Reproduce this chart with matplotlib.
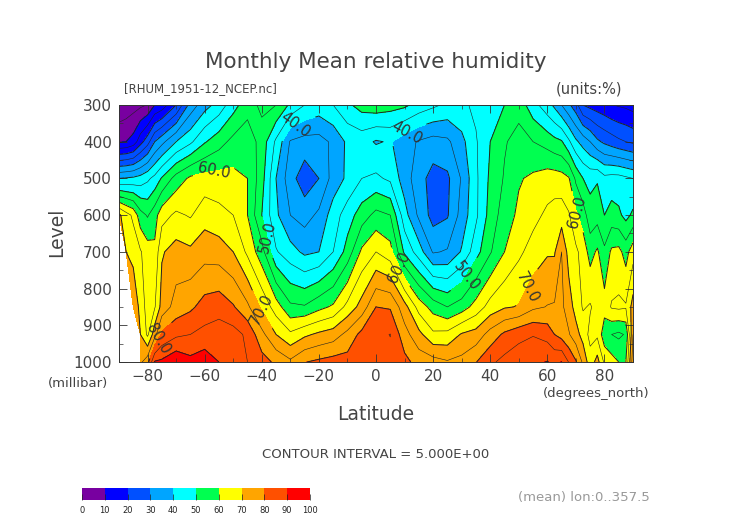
import numpy as np
import matplotlib
matplotlib.use("Agg")
import matplotlib.pyplot as plt
from matplotlib.colors import ListedColormap, BoundaryNorm

nan = np.nan

lat = [-90, -87.5, -85, -82.5, -80, -77.5, -75,
       -70, -65, -60, -55, -50, -45, -40, -35, -30, -25, -20, -15, -10, -5, 0,
       5, 10, 15, 20, 25, 30, 35, 40, 45, 50, 55, 60,
       62.5, 65, 67.5,
       70, 72.5, 75, 77.5, 80, 82.5, 85, 87.5, 90]
level = [300, 400, 500, 600, 700, 850, 925, 1000]

rh300 = [1, 2, 3, 4, 5.2, 10, 12,
         20, 32, 38, 42, 48, 53, 56, 55, 49, 45, 43, 45, 49, 52, 53,
         52, 51, 48, 46, 44, 44, 46, 48, 50, 53, 47, 42,
         39, 35, 31,
         27, 20, 18.5, 17.5, 16.5, 15.2, 14.5, 14, 13]
rh400 = [9.5, 10, 12, 18, 23, 30, 33.5,
         40, 44, 49.5, 53, 56.5, 58, 53, 44, 34.5, 33, 33, 36, 41, 42, 39.5,
         40.5, 37, 34.5, 33, 34, 38.5, 44.5, 50, 54.5, 57, 55, 53,
         51.5, 50.5, 46,
         41, 38, 35, 31, 29, 27.5, 26, 25, 24]
rh500 = [40, 40.5, 41, 42, 44, 46.5, 50.5,
         57, 61, 62, 62, 61.5, 60, 52, 40, 32, 27, 30, 37, 41, 45, 46,
         44, 37.5, 32, 28, 29, 35.5, 44, 51, 55.5, 59.5, 61, 62.5,
         62.5, 62, 60.5,
         54, 50, 48.5, 49.5, 46.5, 47, 47, 46, 45]
rh600 = [71, 67, 64, 57, 54.5, 58, 63,
         66, 64.5, 68, 66.5, 65, 60, 50, 41, 35, 33, 36, 42.5, 47.5, 52.5, 56.5,
         55, 42, 34, 28, 29.5, 37, 44, 52, 57.5, 61, 63.5, 66,
         67, 67.5, 65.5,
         61, 57.5, 52, 53, 50, 52, 51, 48.5, 51]
rh700 = [nan, 70, 68, 65.5, 62.5, 61, 69.5,
         72, 71, 73, 72.5, 70, 64, 57, 45.5, 42, 39, 40, 45, 52, 61, 65,
         62, 49, 42.5, 34.5, 35.5, 40.5, 48, 54.5, 60, 64, 67, 69.5,
         69.5, 75, 68,
         66, 63, 58, 60.8, 56, 61, 61.5, 58, 63]
rh850 = [nan, nan, 75, 68, 63, 64.5, 72,
         77, 79, 82, 83, 80.5, 76, 69, 62.5, 56, 55.5, 58.5, 60.8, 66.5, 72, 80,
         79.5, 72, 63, 58, 55, 57.5, 62, 67, 69.5, 70.3, 74, 75.2,
         75.5, 76, 72.5,
         68, 64.5, 65.5, 63, 62, 65.5, 66, 65.5, 72]
rh925 = [nan, nan, nan, 70, 64, 73, 81,
         84, 85, 86.5, 87.5, 87, 84, 76.5, 70, 66, 69, 71, 72.5, 76.5, 81.5, 84,
         85.1, 77, 71.5, 66, 66.5, 70.5, 72, 77, 81, 83.5, 84.7, 83,
         80, 78, 75.5,
         72, 68, 63.5, 64, 57, 55, 54, 55.5, 75]
rh1000 = [nan, nan, nan, 74, 78, 90.5, 91,
          94, 91.5, 93, 90, 86.5, 85, 82, 79, 76, 79.8, 81, 82, 82, 84, 84.5,
          84, 81.5, 78, 77, 75.5, 76.5, 79.8, 84, 86.5, 88, 89, 90.2,
          89, 90.1, 84.8,
          80.5, 74, 67, 72, 64, 62, 60, 60, 78]

fill_levels = [0, 10, 20, 30, 40, 50, 60, 70, 80, 90, 100]
thin_levels = [5, 15, 25, 35, 45, 55, 65, 75, 85, 95]
thick_levels = [10, 20, 30, 90]
label_levels = [40, 50, 60, 70, 80]
colors = ["#7800a0", "#0000ff", "#0050ff", "#00a5ff", "#00ffff",
          "#00ff50", "#ffff00", "#ffa500", "#ff5000", "#ff0000"]

W, H = 752, 532
TXT = "#444444"
LINE = "#222222"


def px(x, y):
    return x / W, 1 - y / H


rh = np.ma.masked_invalid(np.array([rh300, rh400, rh500, rh600, rh700, rh850, rh925, rh1000]))

fig = plt.figure(figsize=(W / 100, H / 100), dpi=100)
ax = fig.add_axes([119 / W, 1 - 362 / H, (633 - 119) / W, (362 - 105) / H])

cmap = ListedColormap(colors)
norm = BoundaryNorm(fill_levels, cmap.N)
cf = ax.contourf(lat, level, rh, levels=fill_levels, cmap=cmap, norm=norm)
ax.contour(lat, level, rh, levels=thin_levels, colors=LINE, linewidths=0.4)
ax.contour(lat, level, rh, levels=thick_levels, colors=LINE, linewidths=0.7)
cs = ax.contour(lat, level, rh, levels=label_levels, colors=LINE, linewidths=0.7)
ax.clabel(cs, fmt="%.1f", fontsize=10.5, colors="#333333", inline=True,
          manual=[(-28, 357), (11, 379), (-56.7, 485), (-39, 662), (70.4, 591),
                  (8.4, 741), (31, 763), (-39, 853), (53, 798), (-75.6, 940)])

ax.set_xlim(-90, 90)
ax.set_ylim(1000, 300)
ax.set_xticks([-80, -60, -40, -20, 0, 20, 40, 60, 80])
ax.set_xticks(np.arange(-90, 91, 10), minor=True)
ax.set_yticks([300, 400, 500, 600, 700, 800, 900, 1000])
ax.set_yticks(np.arange(300, 1001, 50), minor=True)
ax.set_xticklabels(["\u221280", "\u221260", "\u221240", "\u221220", "0", "20", "40", "60", "80"])
ax.tick_params(which="major", direction="in", length=6, width=0.6, labelsize=11, labelcolor=TXT,
               top=True, right=True, pad=5, color="#333333")
ax.tick_params(which="minor", direction="in", length=3, width=0.5, top=True, right=True, color="#333333")
for s in ax.spines.values():
    s.set_linewidth(0.7)
    s.set_color("#333333")

fig.text(*px(376, 62), "Monthly Mean relative humidity", ha="center", va="center", fontsize=15.5, color=TXT)
fig.text(*px(124, 89), "[RHUM_1951-12_NCEP.nc]", ha="left", va="center", fontsize=8.5, color=TXT)
fig.text(*px(622, 89), "(units:%)", ha="right", va="center", fontsize=10.5, color=TXT)
fig.text(*px(57, 232), "Level", ha="center", va="center", rotation=90, fontsize=13.5, color=TXT)
fig.text(*px(48, 384), "(millibar)", ha="left", va="center", fontsize=9.5, color=TXT)
fig.text(*px(376, 415), "Latitude", ha="center", va="center", fontsize=13.5, color=TXT)
fig.text(*px(650, 393), "(degrees_north)", ha="right", va="center", fontsize=9.5, color=TXT)
fig.text(*px(376, 454), "CONTOUR INTERVAL = 5.000E+00", ha="center", va="center", fontsize=9.5, color=TXT)
fig.text(*px(650, 497), "(mean) lon:0..357.5", ha="right", va="center", fontsize=9.5, color="#999999")

cax = fig.add_axes([82 / W, 1 - 500 / H, (310 - 82) / W, 12 / H])
cb = fig.colorbar(cf, cax=cax, orientation="horizontal", ticks=fill_levels, drawedges=False)
cb.outline.set_visible(False)
cb.ax.tick_params(direction="in", length=4, width=0.5, labelsize=6, pad=4, color="#222222", labelcolor="#222222")

fig.savefig("out.png", dpi=100)
